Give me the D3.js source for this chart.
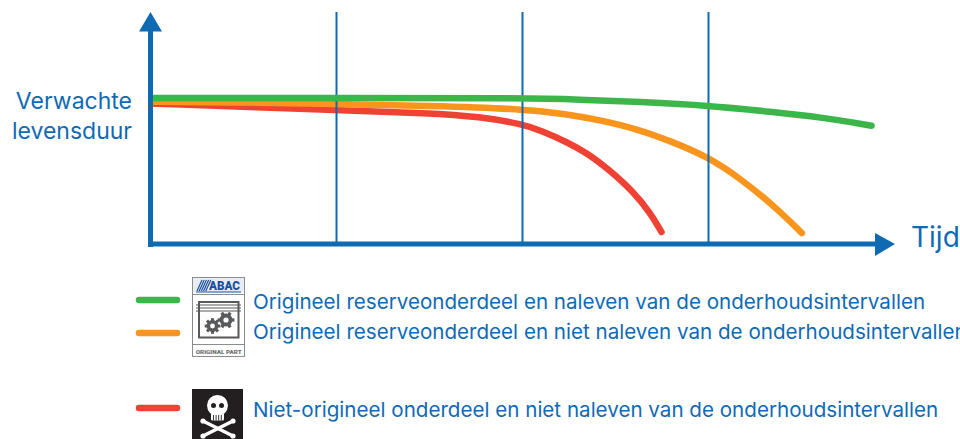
<!DOCTYPE html>
<html>
<head>
<meta charset="utf-8">
<script src="https://cdn.jsdelivr.net/npm/d3@7"></script>
<style>
html,body{margin:0;padding:0;background:#fff;overflow:hidden}
svg{display:block}
text{font-family:Inter,sans-serif}
text.badge{font-family:Roboto,sans-serif}
</style>
</head>
<body>
<div id="chart"></div>
<script>
// time in intervals, life in % of expected
var timeTicks = [1, 2, 3];

var greenTime = [0, 1, 2, 2.31, 2.63, 3, 3.35, 3.6, 3.88];
var greenLife = [100, 100, 100, 99, 97.3, 94.9, 90.4, 87, 81];

var orangeTime = [0, 1, 1.505, 2, 2.24, 2.42, 2.63, 2.81, 3, 3.17, 3.35, 3.505];
var orangeLife = [97.5, 96.1, 94.7, 92.6, 89, 84.9, 78.4, 69.9, 59.6, 45.2, 26.7, 7.5];

var redTime = [0, 1, 1.505, 1.774, 2, 2.11, 2.24, 2.35, 2.47, 2.6, 2.69, 2.75];
var redLife = [96.2, 91.8, 89.7, 87.2, 82.2, 77.4, 69.9, 62.3, 50.7, 35.6, 21.2, 8.2];

var yLabelLines = ["Verwachte", "levensduur"];
var xLabel = "Tijd";

var legendLabels = [
    "Origineel reserveonderdeel en naleven van de onderhoudsintervallen",
    "Origineel reserveonderdeel en niet naleven van de onderhoudsintervallen",
    "Niet-origineel onderdeel en niet naleven van de onderhoudsintervallen"
];
var legendColors = ["#3cb54a", "#f9941d", "#f04135"];

var blue = "#0f6ab4";

var svg = d3.select("#chart").append("svg").attr("width", 960).attr("height", 439);

var x = d3.scaleLinear().domain([0, 3]).range([150, 708]);
var y = d3.scaleLinear().domain([0, 100]).range([244, 98]);

var line = d3.line().x(function (d) { return x(d[0]); }).y(function (d) { return y(d[1]); }).curve(d3.curveBasis);

// keeps the round cap from poking out left of the y axis
svg.append("clipPath").attr("id", "plotClip").append("rect").attr("x", 150).attr("y", 0).attr("width", 810).attr("height", 439);

function drawCurve(times, lifes, color) {
    svg.append("path")
        .attr("clip-path", "url(#plotClip)")
        .attr("d", line(d3.zip(times, lifes)))
        .attr("fill", "none").attr("stroke", color)
        .attr("stroke-width", 6.5).attr("stroke-linecap", "round");
}

drawCurve(redTime, redLife, legendColors[2]);
drawCurve(orangeTime, orangeLife, legendColors[1]);

// vertical lines are the ticks of the time axis
var xAxis = d3.axisBottom(x).tickValues(timeTicks).tickSize(-232).tickFormat("");
var gx = svg.append("g").attr("transform", "translate(0,244)").call(xAxis);
gx.select(".domain").remove();
gx.selectAll("line").attr("stroke", blue).attr("stroke-width", 2);

drawCurve(greenTime, greenLife, legendColors[0]);

// axes with arrowheads
svg.append("line").attr("x1", 150.5).attr("x2", 150.5).attr("y1", 247).attr("y2", 28).attr("stroke", blue).attr("stroke-width", 5);
svg.append("path").attr("d", "M150.5,12L162,31.5L139,31.5Z").attr("fill", blue);
svg.append("line").attr("x1", 148).attr("x2", 878).attr("y1", 244).attr("y2", 244).attr("stroke", blue).attr("stroke-width", 5);
svg.append("path").attr("d", "M895,244L875,233L875,256Z").attr("fill", blue);

svg.selectAll("text.ylab").data(yLabelLines).enter().append("text")
    .attr("class", "ylab")
    .attr("x", 132).attr("y", function (d, i) { return 109 + i * 30; })
    .attr("text-anchor", "end").attr("font-size", 23).attr("fill", blue)
    .text(function (d) { return d; });

svg.append("text").attr("x", 911).attr("y", 247).attr("font-size", 28).attr("fill", blue).text(xLabel);

// legend
var legendKeyY = [300, 333, 408];
var legendTextY = [309, 339, 417];
legendLabels.forEach(function (label, i) {
    svg.append("line").attr("x1", 139).attr("x2", 177).attr("y1", legendKeyY[i]).attr("y2", legendKeyY[i])
        .attr("stroke", legendColors[i]).attr("stroke-width", 6.5).attr("stroke-linecap", "round");
    svg.append("text").attr("x", 253).attr("y", legendTextY[i]).attr("font-size", 20.6).attr("fill", blue).text(label);
});

// original part badge
var badge = svg.append("g");
badge.append("rect").attr("x", 192.5).attr("y", 277.5).attr("width", 52).attr("height", 79).attr("fill", "#fff").attr("stroke", "#8a8c8e");
badge.append("rect").attr("x", 193).attr("y", 278).attr("width", 51).attr("height", 14).attr("fill", "#e8edf4");
d3.range(5).forEach(function (i) {
    badge.append("line").attr("x1", 197 + i * 2.2).attr("x2", 202 + i * 2.2).attr("y1", 291).attr("y2", 280).attr("stroke", "#1d4f9c").attr("stroke-width", 1.2);
});
badge.append("text").attr("class", "badge").attr("x", 209).attr("y", 290).attr("font-size", 12.5)
    .attr("font-weight", 900).attr("fill", "#1d4f9c").attr("textLength", 31).attr("lengthAdjust", "spacingAndGlyphs").text("ABAC");
badge.append("line").attr("x1", 196).attr("x2", 241).attr("y1", 292).attr("y2", 292).attr("stroke", "#1d4f9c").attr("stroke-width", 1);
badge.append("line").attr("x1", 193).attr("x2", 244).attr("y1", 294.5).attr("y2", 294.5).attr("stroke", "#8a8c8e");
badge.append("line").attr("x1", 193).attr("x2", 244).attr("y1", 344.5).attr("y2", 344.5).attr("stroke", "#8a8c8e");
badge.append("rect").attr("x", 199).attr("y", 302).attr("width", 39.5).attr("height", 35.5).attr("fill", "none").attr("stroke", "#58595b").attr("stroke-width", 2);
[305, 308, 311].forEach(function (sy) {
    badge.append("line").attr("x1", 196).attr("x2", 241).attr("y1", sy).attr("y2", sy).attr("stroke", "#58595b").attr("stroke-width", 1.2);
});
function gear(cx, cy, r, teeth, color) {
    var g = badge.append("g");
    d3.range(teeth).forEach(function (i) {
        var a = i / teeth * Math.PI * 2;
        g.append("line").attr("x1", cx).attr("y1", cy)
            .attr("x2", cx + Math.cos(a) * r * 1.3).attr("y2", cy + Math.sin(a) * r * 1.3)
            .attr("stroke", color).attr("stroke-width", r * 0.5);
    });
    g.append("circle").attr("cx", cx).attr("cy", cy).attr("r", r).attr("fill", color);
    g.append("circle").attr("cx", cx).attr("cy", cy).attr("r", r * 0.4).attr("fill", "#fff");
}
gear(212.5, 326, 6, 8, "#58595b");
gear(226, 320, 6.5, 6, "#58595b");
badge.append("text").attr("class", "badge").attr("x", 218.7).attr("y", 353.5).attr("text-anchor", "middle").attr("font-size", 6.2)
    .attr("font-weight", 900).attr("fill", "#6d6e71").attr("textLength", 46).attr("lengthAdjust", "spacingAndGlyphs").text("ORIGINAL PART");

// skull icon
var skull = svg.append("g");
skull.append("rect").attr("x", 192).attr("y", 389).attr("width", 51).attr("height", 50).attr("fill", "#231f20");
[[203, 421, 233, 436], [233, 421, 203, 436]].forEach(function (b) {
    skull.append("line").attr("x1", b[0]).attr("y1", b[1]).attr("x2", b[2]).attr("y2", b[3]).attr("stroke", "#fff").attr("stroke-width", 3.5).attr("stroke-linecap", "round");
    [[b[0], b[1]], [b[2], b[3]]].forEach(function (k) {
        skull.append("circle").attr("cx", k[0]).attr("cy", k[1]).attr("r", 2.6).attr("fill", "#fff");
    });
});
skull.append("circle").attr("cx", 217.5).attr("cy", 405.5).attr("r", 10.5).attr("fill", "#fff");
skull.append("rect").attr("x", 211).attr("y", 410).attr("width", 13).attr("height", 10.5).attr("rx", 1.5).attr("fill", "#fff");
[[213.5, 405.5], [221.5, 405.5]].forEach(function (e) {
    skull.append("circle").attr("cx", e[0]).attr("cy", e[1]).attr("r", 2.5).attr("fill", "#231f20");
});
d3.range(4).forEach(function (i) {
    skull.append("line").attr("x1", 213.5 + i * 2.6).attr("x2", 213.5 + i * 2.6).attr("y1", 415).attr("y2", 420.5).attr("stroke", "#231f20").attr("stroke-width", 0.9);
});
</script>
</body>
</html>
